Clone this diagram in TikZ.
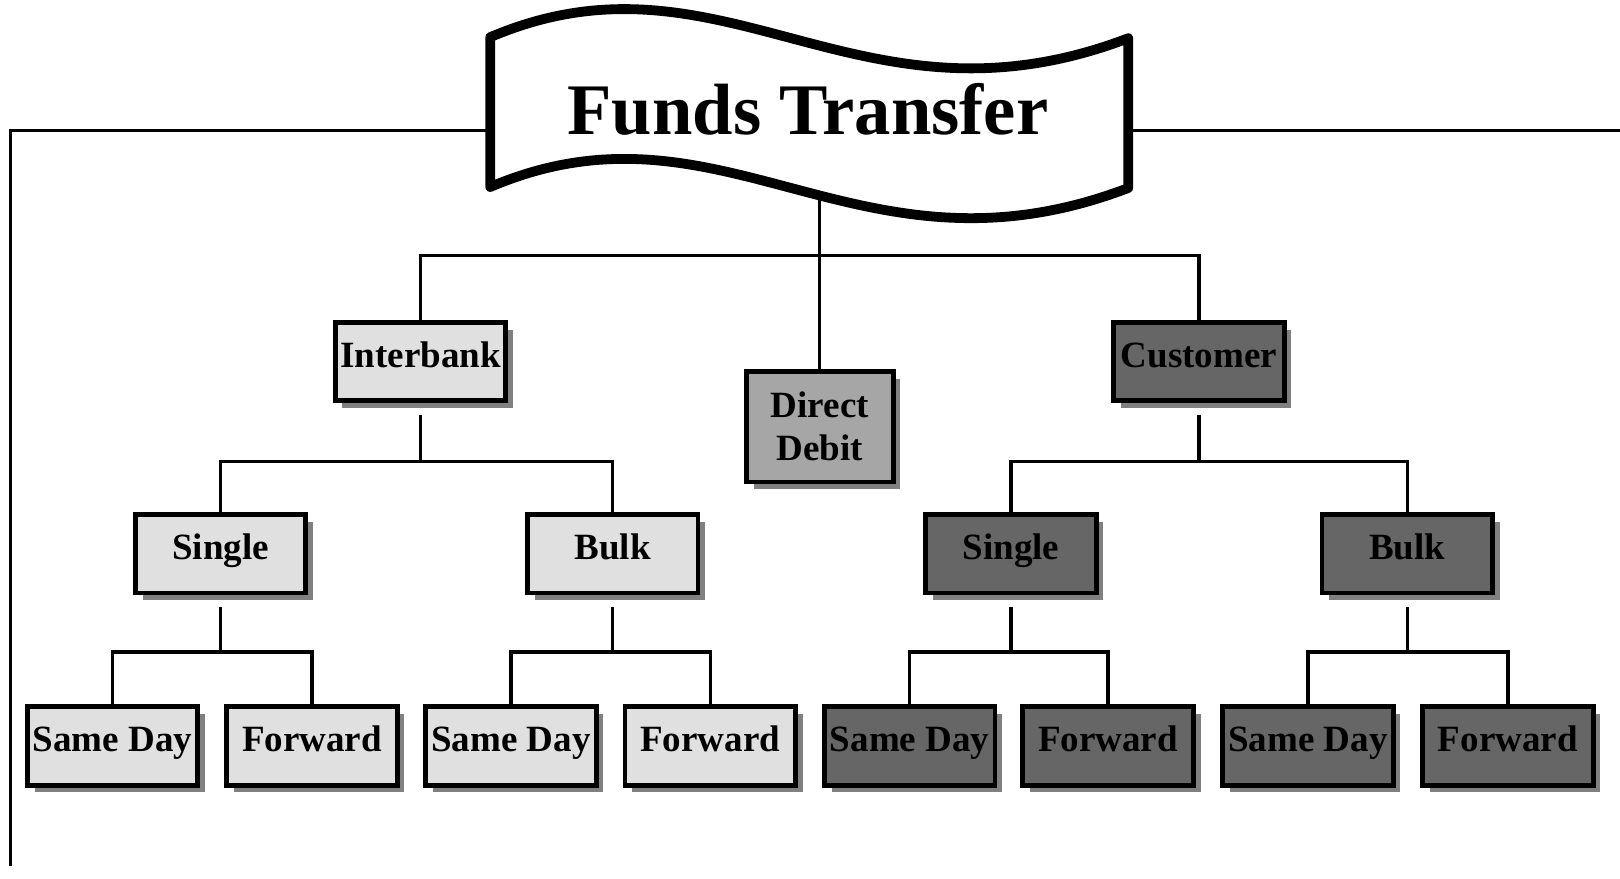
\documentclass[tikz,border=0pt]{standalone}
\usepackage{fontspec}
\setmainfont{Liberation Serif}
\usetikzlibrary{shadows}

\definecolor{paleGray}{HTML}{E0E0E0}
\definecolor{midGray}{HTML}{A6A6A6}
\definecolor{darkGray}{HTML}{666666}
\definecolor{shadeGray}{HTML}{808080}

\begin{document}
\begin{tikzpicture}[
	x=1mm, y=1mm,
	node distance=18.6mm,
	text centered,
	box/.style={
		rectangle, draw, line width=1.3pt,
		minimum width=16.5mm, minimum height=7.6mm,
		inner xsep=0.4mm,
		text height=2.5mm, text depth=1.4mm,
		font=\bfseries\fontsize{10.2}{11.9}\selectfont,
		drop shadow={shadow xshift=0.7mm, shadow yshift=-0.7mm, fill=shadeGray, opacity=1}
	},
	lt/.style={
		fill=paleGray
	},
	md/.style={
		fill=midGray
	},
	dk/.style={
		fill=darkGray
	},
	link/.style={
		line width=0.9pt
	},
	banner/.style={
		draw, fill=white, line width=2.7pt, line join=round
	}
	]

	\useasboundingbox (0,0) rectangle (156.8,-85);

	% frame lines
	\coordinate (FrameTop) at (1,-12.6);
	\coordinate (FrameBot) at (1,-83.8);
	\coordinate (FrameEnd) at (156.8,-12.6);
	\draw[link] (FrameBot) -- (FrameTop) -- (FrameEnd);

	% banner
	\draw[banner] (47.45,-3.6) .. controls (70,6) and (83,-13.7) .. (109.2,-3.7)
		-- (109.2,-18.2) .. controls (83,-28.2) and (70,-8.5) .. (47.45,-18.1) -- cycle;
	\node[font=\bfseries\fontsize{20}{24}\selectfont] (FT) at (78.2,-10.6) {Funds Transfer};
	\coordinate (FTfoot) at (79.3,-18.9);

	\node [box, lt, below of=FT, xshift=-37.5mm, yshift=-5.8mm] (Inter) {Interbank};
	\node [box, md, below of=FT, xshift=1.15mm, yshift=-12.1mm,
	minimum width=14.2mm, minimum height=10.7mm,
	text height=, text depth=, align=center] (Debit) {Direct\\Debit};
	\node [box, dk, below of=FT, xshift=37.85mm, yshift=-5.8mm] (Cust) {Customer};

	\node [box, lt, below of=Inter, xshift=-19.35mm] (SingL) {Single};
	\node [box, lt, below of=Inter, xshift=18.6mm] (BulkL) {Bulk};
	\node [box, dk, below of=Cust, xshift=-18.2mm] (SingR) {Single};
	\node [box, dk, below of=Cust, xshift=20.15mm] (BulkR) {Bulk};

	\node [box, lt, below of=SingL, xshift=-10.45mm] (SdA) {Same Day};
	\node [box, lt, below of=SingL, xshift=8.85mm] (FwA) {Forward};
	\node [box, lt, below of=BulkL, xshift=-9.85mm] (SdB) {Same Day};
	\node [box, lt, below of=BulkL, xshift=9.45mm] (FwB) {Forward};
	\node [box, dk, below of=SingR, xshift=-9.8mm] (SdC) {Same Day};
	\node [box, dk, below of=SingR, xshift=9.4mm] (FwC) {Forward};
	\node [box, dk, below of=BulkR, xshift=-9.6mm] (SdD) {Same Day};
	\node [box, dk, below of=BulkR, xshift=9.75mm] (FwD) {Forward};

	% buses
	\coordinate (BusA) at (0,-24.7);
	\coordinate (BusB) at (0,-44.7);
	\coordinate (BusC) at (0,-63.1);

	\draw[link] (FTfoot) -- (FTfoot |- Debit.north);
	\draw[link] (Inter.north) -- (Inter.north |- BusA) -- (Cust.north |- BusA) -- (Cust.north);

	\draw[link] ([yshift=-1.1mm]Inter.south) -- (Inter.south |- BusB);
	\draw[link] (SingL.north) -- (SingL.north |- BusB) -- (BulkL.north |- BusB) -- (BulkL.north);
	\draw[link] ([yshift=-1.1mm]Cust.south) -- (Cust.south |- BusB);
	\draw[link] (SingR.north) -- (SingR.north |- BusB) -- (BulkR.north |- BusB) -- (BulkR.north);

	\draw[link] ([yshift=-1.1mm]SingL.south) -- (SingL.south |- BusC);
	\draw[link] (SdA.north) -- (SdA.north |- BusC) -- (FwA.north |- BusC) -- (FwA.north);
	\draw[link] ([yshift=-1.1mm]BulkL.south) -- (BulkL.south |- BusC);
	\draw[link] (SdB.north) -- (SdB.north |- BusC) -- (FwB.north |- BusC) -- (FwB.north);
	\draw[link] ([yshift=-1.1mm]SingR.south) -- (SingR.south |- BusC);
	\draw[link] (SdC.north) -- (SdC.north |- BusC) -- (FwC.north |- BusC) -- (FwC.north);
	\draw[link] ([yshift=-1.1mm]BulkR.south) -- (BulkR.south |- BusC);
	\draw[link] (SdD.north) -- (SdD.north |- BusC) -- (FwD.north |- BusC) -- (FwD.north);

\end{tikzpicture}
\end{document}
